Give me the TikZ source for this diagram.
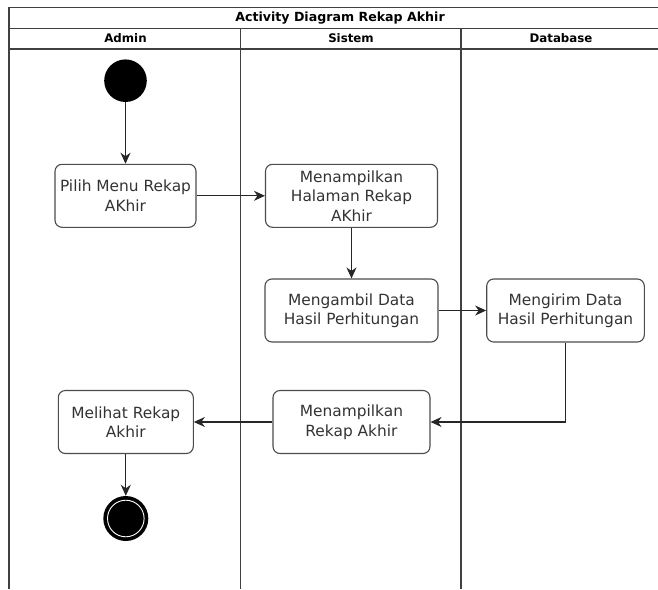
\documentclass[tikz,border=0pt]{standalone}
\usepackage{fontspec}
\setmainfont{DejaVu Sans}
\usetikzlibrary{arrows.meta}

\begin{document}
\begin{tikzpicture}[x=1pt,y=-1pt,
  act/.style={draw=black!70,line width=1.1pt,rounded corners=7pt,align=center,
    text=black!80,font=\fontsize{15.4}{19.5}\selectfont,minimum height=63pt,inner sep=0pt},
  flow/.style={draw=black!85,line width=1.1pt,-{Stealth[length=11pt,width=10pt,inset=3.5pt]}},
  lane/.style={draw=black!75,line width=1.1pt},
  head/.style={font=\bfseries\fontsize{11.8}{14}\selectfont}]
  \useasboundingbox (0,0) rectangle (658,589);
  \clip (0,0) rectangle (658,589);
  % swimlanes
  \draw[lane] (9,589) -- (9,7.5) -- (672,7.5);
  \draw[lane] (9,28.5) -- (672,28.5);
  \draw[lane] (9,49) -- (672,49);
  \draw[lane] (240.5,28.5) -- (240.5,589);
  \draw[lane] (461,28.5) -- (461,589);
  \node[font=\bfseries\fontsize{12.6}{14}\selectfont] (title) at (340,18) {Activity Diagram Rekap Akhir};
  \node[head] (admin) at (125.5,38.5) {Admin};
  \node[head] (sistem) at (351,38.5) {Sistem};
  \node[head] (database) at (561,38.5) {Database};
  % activities
  \node[circle,fill=black,minimum size=42.6pt,inner sep=0pt] (start) at (125.5,80.7) {};
  \node[act,minimum width=141pt] (pilih) at (125.5,195.8) {Pilih Menu Rekap\\AKhir};
  \node[act,minimum width=172pt] (halaman) at (351.5,195.8) {Menampilkan\\Halaman Rekap\\AKhir};
  \node[act,minimum width=173pt] (ambil) at (351.5,310.5) {Mengambil Data\\Hasil Perhitungan};
  \node[act,minimum width=157.6pt] (kirim) at (565.5,310.5) {Mengirim Data\\Hasil Perhitungan};
  \node[act,minimum width=157pt] (rekap) at (351.5,422) {Menampilkan\\Rekap Akhir};
  \node[act,minimum width=135pt] (lihat) at (125.8,422) {Melihat Rekap\\Akhir};
  \node[circle,fill=black,minimum size=45pt,inner sep=0pt] (stop) at (125.8,518.5) {};
  \draw[white,line width=0.9pt] (stop.center) circle (18.3pt);
  % flows
  \draw[flow] (start) -- (pilih);
  \draw[flow] (pilih) -- (halaman);
  \draw[flow] (halaman) -- (ambil);
  \draw[flow] (ambil) -- (kirim);
  \draw[flow] (kirim.south) |- (rekap.east);
  \draw[flow] (rekap) -- (lihat);
  \draw[flow] (lihat) -- (stop);
\end{tikzpicture}
\end{document}
